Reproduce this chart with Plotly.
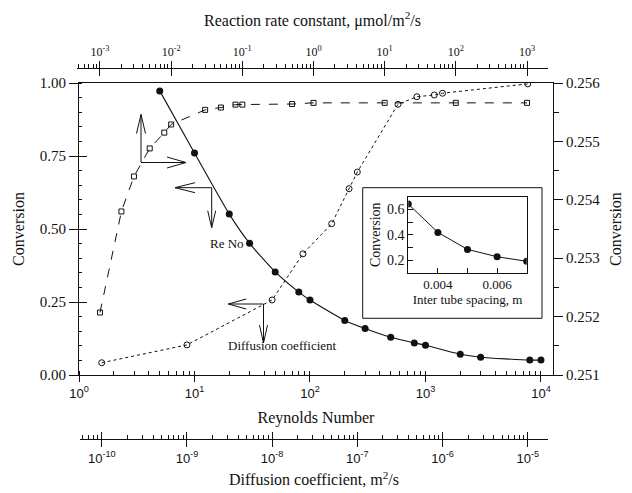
import math
import plotly.graph_objects as go

# ---------------- data ----------------
re_number = [5, 10, 20, 30, 50, 80, 100, 200, 300, 500, 800, 1000, 2000, 3000, 8000, 10000]
re_conversion = [0.973, 0.760, 0.551, 0.451, 0.353, 0.284, 0.257, 0.187, 0.159,
                 0.129, 0.110, 0.102, 0.071, 0.061, 0.051, 0.051]

diffusion_coeff = [1e-10, 1e-9, 1e-8, 2.3e-8, 5e-8, 8e-8, 1e-7, 3e-7, 5e-7, 8e-7, 1e-6, 1e-5]
diffusion_conversion = [0.042, 0.103, 0.257, 0.415, 0.518, 0.638, 0.695, 0.927,
                        0.953, 0.959, 0.965, 0.997]

rate_constant = [1e-3, 2e-3, 3e-3, 5e-3, 8e-3, 1e-2, 3e-2, 5e-2, 8e-2, 0.1, 0.5, 1, 10, 100, 1000]
rate_conversion = [0.25207, 0.25380, 0.25440, 0.25488, 0.25515, 0.25529, 0.25554,
                   0.25558, 0.25563, 0.25563, 0.25564, 0.25566, 0.25566, 0.25566, 0.25566]

tube_spacing = [0.003, 0.004, 0.005, 0.006, 0.007]
tube_conversion = [0.642, 0.418, 0.284, 0.226, 0.190]

re_tick_exp = [0, 1, 2, 3, 4]
rate_tick_exp = [-3, -2, -1, 0, 1, 2, 3]
diff_tick_exp = [-10, -9, -8, -7, -6, -5]
conv_ticks = [0.0, 0.25, 0.5, 0.75, 1.0]
conv_right_ticks = [0.251, 0.252, 0.253, 0.254, 0.255, 0.256]
inset_x_ticks = [0.004, 0.006]
inset_y_ticks = [0.2, 0.4, 0.6]

# ---------------- layout helpers ----------------
# The page body has an 8 px margin, so the figure is placed at (8, 8);
# reference pixel coordinates are kept and the figure is sized accordingly.
OFF = 8
W, H = 632 - OFF, 493 - OFF
PAPER_L, PAPER_R, PAPER_T, PAPER_B = 77, 553, 60, 445   # reference pixels
ML, MT = PAPER_L - OFF, PAPER_T - OFF
MR, MB = W - (PAPER_R - OFF), H - (PAPER_B - OFF)
PW, PH = PAPER_R - PAPER_L, PAPER_B - PAPER_T


def px(x):
    return (x - PAPER_L) / PW


def py(y):
    return (PAPER_B - y) / PH


def pow_labels(exps):
    return ["10<sup>%d</sup>" % e for e in exps]


def log_minor(lo, hi):
    vals = []
    for e in range(lo, hi + 1):
        for m in range(1, 10):
            vals.append(m * 10.0 ** e)
    return vals


SERIF = "Liberation Serif"
SANS = "Liberation Sans"
BLACK = "#111111"

fig = go.Figure()

fig.add_trace(go.Scatter(
    x=re_number, y=re_conversion, xaxis="x", yaxis="y",
    mode="lines+markers", line=dict(color=BLACK, width=1.1, shape="spline", smoothing=0.6),
    marker=dict(symbol="circle", size=7, color=BLACK), showlegend=False))

fig.add_trace(go.Scatter(
    x=diffusion_coeff, y=diffusion_conversion, xaxis="x3", yaxis="y",
    mode="lines+markers", line=dict(color=BLACK, width=1, dash="dot"),
    marker=dict(symbol="circle-open", size=6, color=BLACK, line=dict(width=1)),
    showlegend=False))

fig.add_trace(go.Scatter(
    x=rate_constant, y=rate_conversion, xaxis="x2", yaxis="y2",
    mode="lines+markers", line=dict(color=BLACK, width=1, dash="dash"),
    marker=dict(symbol="square-open", size=5, color=BLACK, line=dict(width=1)),
    showlegend=False))

fig.add_trace(go.Scatter(
    x=tube_spacing, y=tube_conversion, xaxis="x4", yaxis="y4",
    mode="lines+markers", line=dict(color=BLACK, width=1),
    marker=dict(symbol="circle", size=7, color=BLACK), showlegend=False))

# empty helper traces so the tick-only overlay axes get drawn
for xa, ya in [("x5", "y"), ("x6", "y"), ("x", "y3")]:
    fig.add_trace(go.Scatter(x=[], y=[], xaxis=xa, yaxis=ya, showlegend=False,
                             hoverinfo="skip"))

# ---------------- arrows (decorations) ----------------
shapes = []


def seg(x0, y0, x1, y1):
    shapes.append(dict(type="line", xref="paper", yref="paper",
                       x0=px(x0), y0=py(y0), x1=px(x1), y1=py(y1),
                       line=dict(color=BLACK, width=1)))


def arrow(x0, y0, x1, y1, hl, hw):
    seg(x0, y0, x1, y1)
    dx, dy = x1 - x0, y1 - y0
    n = math.hypot(dx, dy)
    ux, uy = dx / n, dy / n
    bx, by = x1 - ux * hl, y1 - uy * hl
    seg(x1, y1, bx - uy * hw, by + ux * hw)
    seg(x1, y1, bx + uy * hw, by - ux * hw)


arrow(141, 162.5, 141, 114.5, 19, 4.5)
arrow(141, 162.5, 186, 162.5, 19, 5.5)
arrow(211.7, 187.7, 175, 187.7, 20, 5)
arrow(211.7, 187.7, 211.7, 227.7, 17, 4)
arrow(263.5, 304, 228.3, 304, 18, 5)
arrow(263.5, 304, 263.5, 343, 18, 4)

# inset frame
shapes.append(dict(type="rect", xref="paper", yref="paper", layer="below",
                   x0=px(362.7), x1=px(542), y0=py(318.3), y1=py(187.7),
                   line=dict(color=BLACK, width=1), fillcolor="white"))

annotations = [
    dict(text="Re No", xref="paper", yref="paper", x=px(208), y=py(243),
         showarrow=False, font=dict(family=SERIF, size=13, color=BLACK)),
    dict(text="Diffusion coefficient", xref="paper", yref="paper", x=px(282), y=py(355),
         showarrow=False, font=dict(family=SERIF, size=13, color=BLACK)),
]

axis_common = dict(showgrid=False, zeroline=False, showline=True, linecolor=BLACK,
                   linewidth=1, tickcolor=BLACK, tickwidth=1, automargin=False)
tick_only = dict(showgrid=False, zeroline=False, showline=False, showticklabels=False,
                 tickcolor=BLACK, tickwidth=1, automargin=False, ticks="inside")

RATE_RANGE = [-3.323, 3.295]
RATE_DOMAIN = [0, px(548)]
DIFF_RANGE = [-10.255, -4.762]
DIFF_DOMAIN = [px(80), px(548)]
CONV_DOMAIN = [py(375), py(83)]

fig.update_layout(
    width=W, height=H,
    margin=dict(l=ML, r=MR, t=MT, b=MB, pad=0, autoexpand=False),
    font=dict(family=SERIF, size=14, color=BLACK),
    paper_bgcolor="white", plot_bgcolor="rgba(0,0,0,0)",
    showlegend=False, shapes=shapes, annotations=annotations,
    xaxis=dict(axis_common, type="log", range=[0, 4.104], domain=[px(79), 1],
               anchor="y", mirror=True, ticks="outside", ticklen=6,
               tickvals=[10 ** e for e in re_tick_exp], ticktext=pow_labels(re_tick_exp),
               tickfont=dict(family=SANS, size=13, color=BLACK),
               minor=dict(tickmode="array", tickvals=log_minor(0, 4), ticks="inside",
                          ticklen=4, tickcolor=BLACK),
               title=dict(text="Reynolds Number", standoff=12,
                          font=dict(family=SERIF, size=16, color=BLACK))),
    yaxis=dict(axis_common, range=[0, 1], domain=CONV_DOMAIN, anchor="x",
               ticks="outside", ticklen=9, tickvals=conv_ticks, tickformat=".2f",
               tickfont=dict(family=SERIF, size=15, color=BLACK),
               minor=dict(dtick=0.05, ticks="inside", ticklen=3, tickcolor=BLACK),
               title=dict(text="Conversion", standoff=11,
                          font=dict(family=SERIF, size=16, color=BLACK))),
    yaxis3=dict(tick_only, range=[0, 1], overlaying="y", anchor="x", side="left",
                tickvals=conv_ticks, ticklen=8),
    yaxis2=dict(axis_common, range=[0.251, 0.256], overlaying="y", side="right",
                anchor="x", ticks="outside", ticklen=9, tickvals=conv_right_ticks,
                tickformat=".3f", tickfont=dict(family=SERIF, size=15, color=BLACK),
                minor=dict(dtick=0.0005, ticks="outside", ticklen=5, tickcolor=BLACK),
                title=dict(text="Conversion", standoff=10,
                           font=dict(family=SERIF, size=16, color=BLACK))),
    xaxis2=dict(axis_common, type="log", range=RATE_RANGE, domain=RATE_DOMAIN,
                anchor="free", position=py(67.7), side="top",
                ticks="outside", ticklen=7,
                tickvals=[10.0 ** e for e in rate_tick_exp], ticktext=pow_labels(rate_tick_exp),
                tickfont=dict(family=SERIF, size=12, color=BLACK),
                minor=dict(tickmode="array", tickvals=log_minor(-4, 3), ticks="outside",
                           ticklen=4, tickcolor=BLACK),
                title=dict(text="Reaction rate constant, \u03bcmol/m<sup>2</sup>/s", standoff=12,
                           font=dict(family=SERIF, size=16, color=BLACK))),
    xaxis5=dict(tick_only, type="log", range=RATE_RANGE, domain=RATE_DOMAIN,
                anchor="free", position=py(67.7), side="top", ticklen=7,
                tickvals=[10.0 ** e for e in rate_tick_exp]),
    xaxis3=dict(axis_common, type="log", range=DIFF_RANGE, domain=DIFF_DOMAIN,
                anchor="free", position=py(439), side="bottom",
                ticks="outside", ticklen=7,
                tickvals=[10.0 ** e for e in diff_tick_exp], ticktext=pow_labels(diff_tick_exp),
                tickfont=dict(family=SANS, size=13, color=BLACK),
                minor=dict(tickmode="array", tickvals=log_minor(-11, -5), ticks="inside",
                           ticklen=4, tickcolor=BLACK),
                title=dict(text="Diffusion coefficient, m<sup>2</sup>/s", standoff=9,
                           font=dict(family=SERIF, size=16, color=BLACK))),
    xaxis6=dict(tick_only, type="log", range=DIFF_RANGE, domain=DIFF_DOMAIN,
                anchor="free", position=py(439), side="bottom", ticklen=7,
                tickvals=[10.0 ** e for e in diff_tick_exp]),
    xaxis4=dict(axis_common, range=[0.003, 0.007], domain=[px(408.3), px(526.7)],
                anchor="y4", mirror=True, ticks="inside", ticklen=5,
                tickvals=inset_x_ticks, tickformat=".3f",
                tickfont=dict(family=SERIF, size=13, color=BLACK),
                minor=dict(dtick=0.001, ticks="inside", ticklen=5, tickcolor=BLACK),
                title=dict(text="Inter tube spacing, m", standoff=3,
                           font=dict(family=SERIF, size=13, color=BLACK))),
    yaxis4=dict(axis_common, range=[0.1, 0.7], domain=[py(272.7), py(196.7)],
                anchor="x4", mirror=True, ticks="inside", ticklen=5,
                tickvals=inset_y_ticks, tickformat=".1f",
                tickfont=dict(family=SERIF, size=14, color=BLACK),
                minor=dict(dtick=0.1, ticks="inside", ticklen=5, tickcolor=BLACK),
                title=dict(text="Conversion", standoff=3,
                           font=dict(family=SERIF, size=14, color=BLACK))),
)

fig.write_html("out.html")
